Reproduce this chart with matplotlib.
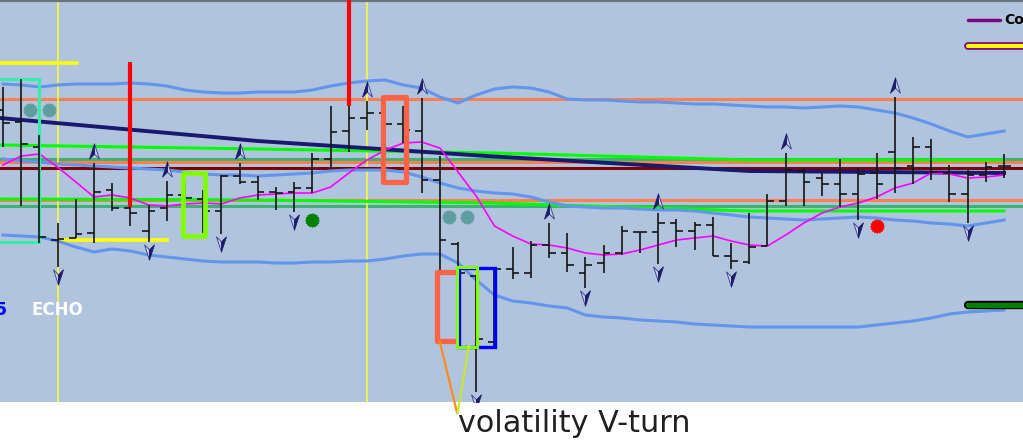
import numpy as np
import matplotlib.pyplot as plt
from matplotlib.patches import Rectangle
from matplotlib.path import Path

# ======== bar data (chart units, axis runs top -> down) ========
opens = [110, 122, 147, 240, 238, 233, 190, 208, 231, 208, 195, 199, 211, 176,
         182, 192, 192, 188, 159, 131, 118, 113, 124, 131, 180, 244, 276, 342,
         269, 273, 245, 253, 273, 263, 253, 232, 232, 223, 231, 225, 256, 262,
         246, 201, 171, 178, 184, 194, 173, 152, 166, 147, 173, 194, 175, 166]
highs = [87, 79, 135, 223, 199, 163, 183, 207, 205, 181, 182, 190, 175, 163,
         176, 187, 182, 153, 106, 106, 101, 113, 106, 98, 156, 242, 275, 268,
         247, 241, 223, 233, 257, 245, 226, 232, 213, 219, 222, 217, 243, 213,
         194, 153, 168, 173, 159, 168, 153, 97, 137, 139, 165, 170, 162, 154]
lows = [147, 206, 243, 267, 238, 243, 211, 226, 242, 221, 199, 233, 234, 184,
        200, 210, 212, 193, 167, 152, 130, 147, 143, 193, 274, 308, 392, 347,
        279, 278, 258, 272, 288, 273, 255, 253, 264, 247, 250, 256, 269, 264,
        246, 206, 206, 196, 207, 220, 199, 193, 184, 180, 202, 223, 182, 178]
closes = [123, 144, 237, 239, 234, 192, 208, 213, 211, 195, 198, 211, 176, 182,
          192, 193, 188, 159, 132, 118, 113, 124, 130, 180, 240, 273, 339, 269,
          273, 245, 253, 265, 265, 253, 231, 232, 223, 231, 225, 256, 261, 247,
          201, 170, 182, 184, 194, 174, 184, 168, 147, 172, 194, 175, 167, 166]

# ======== indicators ========
band_upper = [84, 85, 87, 85, 84, 84, 84, 83, 84, 86, 90, 92, 93, 93, 92, 92,
              92, 90, 86, 83, 81, 80, 85, 88, 97, 103, 95, 89, 87, 88, 92, 99,
              100, 100, 101, 102, 102, 103, 104, 104, 105, 106, 107, 107, 108,
              107, 106, 107, 110, 113, 118, 124, 131, 137, 134, 131]
band_mid = [159, 161, 162, 164, 165, 166, 167, 168, 169, 170, 172, 174, 175,
            175, 176, 175, 174, 173, 171, 170, 170, 170, 172, 177, 183, 188,
            191, 193, 194, 197, 202, 206, 207, 208, 208, 209, 210, 210, 211,
            213, 215, 217, 218, 219, 220, 219, 218, 217, 218, 220, 221, 223,
            224, 226, 223, 220]
band_lower = [235, 236, 237, 241, 247, 252, 249, 251, 255, 257, 259, 261, 262,
              262, 262, 263, 263, 262, 262, 261, 261, 259, 256, 254, 254, 263,
              280, 295, 301, 303, 306, 308, 315, 317, 318, 320, 321, 322, 324,
              325, 326, 327, 327, 327, 327, 327, 327, 327, 325, 323, 321, 318,
              314, 312, 311, 310]
fast_ma = [165, 156, 154, 167, 182, 197, 195, 198, 205, 206, 204, 203, 204, 198,
           195, 194, 193, 193, 187, 173, 160, 150, 143, 142, 148, 172, 196, 226,
           236, 244, 245, 248, 253, 255, 254, 250, 245, 240, 238, 236, 241, 245,
           246, 235, 223, 213, 207, 203, 197, 188, 183, 173, 174, 178, 177, 175]
slow_ma_idx = [-0.16, 14, 27, 41, 55]
slow_ma = [118, 141, 156.5, 171, 173]
lime_idx = [-0.16, 14, 27, 41, 55]
lime_upper = [145, 149, 153, 160, 160]
lime_lower = [199, 200, 203, 211, 211]

levels_orange = [99, 162, 200]
levels_green = [159, 206]
level_red = 168

up_idx = [5, 9, 13, 20, 23, 30, 36, 43, 49]
down_idx = [3, 8, 12, 16, 26, 32, 36, 40, 47, 53]
teal_dots_idx = [1.5, 2.5, 24.5, 25.5]
teal_dots_y = [110, 110, 217, 217]
green_dot = (17, 220)
red_dot = (48, 226)

n = len(opens)
x = np.arange(n)
tick = 0.36

fig = plt.figure(figsize=(10.23, 4.43), dpi=100)
ax = fig.add_axes([0, 41 / 443, 1, 402 / 443])
ax.set_facecolor('#B0C4DE')
ax.set_xlim(-0.165, 56.04)
ax.set_ylim(402, 0)
ax.set_xticks([])
ax.set_yticks([])
for s in ax.spines.values():
    s.set_visible(False)
ax.spines['top'].set_visible(True)
ax.spines['top'].set_color('#6c737c')
ax.spines['top'].set_linewidth(3)

# ======== levels ========
for lv in levels_orange:
    ax.axhline(lv, color='#FF7F50', lw=2.2, zorder=1)
for lv in levels_green:
    ax.axhline(lv, color='#3CB371', lw=2.2, zorder=1)
ax.axhline(level_red, color='#800000', lw=2.2, zorder=1.2)

# vertical yellow lines
for i in [3, 20]:
    ax.axvline(i, color='#FFFF33', lw=1.1, zorder=1)
ax.plot([-0.2, 4.07], [63, 63], color='#FFFF00', lw=2.6, zorder=1)
ax.plot([3, 9], [240, 240], color='#FFFF00', lw=2.6, zorder=1)

# ======== indicator lines ========
ax.plot(lime_idx, lime_upper, color='#00FF00', lw=2.2, zorder=1.3)
ax.plot(lime_idx, lime_lower, color='#00FF00', lw=2.2, zorder=1.3)
ax.plot(x, band_upper, color='#6495ED', lw=2.2, zorder=1.4)
ax.plot(x, band_mid, color='#6495ED', lw=2.2, zorder=1.4)
ax.plot(x, band_lower, color='#6495ED', lw=2.2, zorder=1.4)
ax.plot(slow_ma_idx, slow_ma, color='#191970', lw=2.8, zorder=1.5)
ax.plot(x, fast_ma, color='#FF00FF', lw=1.2, zorder=1.6)

# ======== OHLC bars ========
ax.vlines(x, highs, lows, color='#151515', lw=1.2, zorder=3)
ax.hlines(opens, x - tick, x, color='#151515', lw=1.2, zorder=3)
ax.hlines(closes, x, x + tick, color='#151515', lw=1.2, zorder=3)

# ======== arrows ========
up_l = Path([(0, 1), (0, -0.35), (-0.65, -1), (0, 1)])
up_r = Path([(0, 1), (0.65, -1), (0, -0.35), (0, 1)])
dn_l = Path([(0, -1), (-0.65, 1), (0, 0.35), (0, -1)])
dn_r = Path([(0, -1), (0, 0.35), (0.65, 1), (0, -1)])
ux = np.array(up_idx)
uy = np.array([highs[i] for i in up_idx]) - 12
dx = np.array(down_idx)
dy = np.array([lows[i] for i in down_idx]) + 10
ax.plot(ux, uy, ls='', marker=up_r, ms=11, mfc='#c3cbe8', mec='#3a3a8a', mew=0.6, zorder=4)
ax.plot(ux, uy, ls='', marker=up_l, ms=11, mfc='#1c1c6b', mec='#1c1c6b', mew=0.6, zorder=4)
ax.plot(dx, dy, ls='', marker=dn_l, ms=11, mfc='#c3cbe8', mec='#3a3a8a', mew=0.6, zorder=4)
ax.plot(dx, dy, ls='', marker=dn_r, ms=11, mfc='#1c1c6b', mec='#1c1c6b', mew=0.6, zorder=4)

# ======== dots ========
star = Path.unit_regular_star(16, 0.8)
ax.plot(teal_dots_idx, teal_dots_y, ls='', marker=star, ms=9.5, color='#5F9EA0', zorder=4)
ax.plot(*green_dot, ls='', marker=star, ms=9.5, color='#008000', zorder=4)
ax.plot(*red_dot, ls='', marker=star, ms=9.5, color='#FF0000', zorder=4)

# ======== highlight boxes ========
ax.add_patch(Rectangle((-0.6, 79), 2.58, 163, fill=False, ec='#33EEAA', lw=2.2, zorder=2.5))
ax.add_patch(Rectangle((9.9, 173), 1.2, 63, fill=False, ec='#7FFF00', lw=3.4,
                       joinstyle='round', zorder=5))
ax.add_patch(Rectangle((20.88, 97), 1.26, 85, fill=False, ec='#FF6347', lw=3.8,
                       joinstyle='round', zorder=5))
ax.plot([24.9, 23.85, 23.85, 24.9], [272, 272, 341, 341], color='#FF6347', lw=3.8, zorder=5)
ax.add_patch(Rectangle((25.05, 268), 1.98, 79, fill=False, ec='#0000FF', lw=2.4, zorder=5))
ax.add_patch(Rectangle((24.97, 267), 1.07, 80, fill=False, ec='#7FFF00', lw=2.2, zorder=5.1))

# red signal lines
ax.vlines(7, 62, 207, color='#FF0000', lw=3, zorder=6)
ax.vlines(19, 0, 106, color='#FF0000', lw=3, zorder=6)

# V-turn pointers
ax.plot([24.0, 24.95], [342, 413], color='#FF8C1A', lw=1.6, clip_on=False, zorder=6)
ax.plot([25.6, 24.97], [346, 413], color='#C8E632', lw=1.6, clip_on=False, zorder=6)

# ======== legend stubs / labels ========
ax.plot([0.946, 0.978], [0.950, 0.950], transform=ax.transAxes, color='#800080', lw=2.5,
        solid_capstyle='round', zorder=7)
ax.text(0.982, 0.950, 'Cover', transform=ax.transAxes, fontsize=10, fontweight='bold',
        va='center', ha='left', color='black', zorder=7)
ax.plot([0.946, 1.02], [0.886, 0.886], transform=ax.transAxes, color='#800080', lw=5.5,
        solid_capstyle='round', zorder=7, clip_on=False)
ax.plot([0.946, 1.02], [0.886, 0.886], transform=ax.transAxes, color='#FFFF00', lw=3,
        solid_capstyle='round', zorder=7.1, clip_on=False)
ax.plot([0.946, 1.02], [0.241, 0.241], transform=ax.transAxes, color='black', lw=6,
        solid_capstyle='round', zorder=7, clip_on=False)
ax.plot([0.946, 1.02], [0.241, 0.241], transform=ax.transAxes, color='#008000', lw=3.8,
        solid_capstyle='round', zorder=7.1, clip_on=False)

ax.text(57 / 1023, (402 - 310) / 402, 'ECHO', transform=ax.transAxes, color='white',
        fontsize=12, fontweight='bold', family=['Liberation Sans Narrow', 'DejaVu Sans'],
        ha='center', va='center', zorder=7)
ax.text(7 / 1023, (402 - 310) / 402, '15', transform=ax.transAxes, color='#0000FF',
        fontsize=12, fontweight='bold', family=['Liberation Sans Narrow', 'DejaVu Sans'],
        ha='right', va='center', zorder=7)

fig.text(458 / 1023, (443 - 432) / 443, 'volatility V-turn', fontsize=21.8,
         color='#202020', ha='left', va='baseline')

fig.savefig('out.png', dpi=100, facecolor='white')
